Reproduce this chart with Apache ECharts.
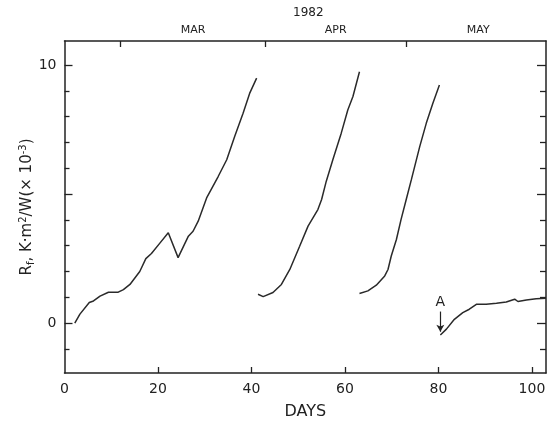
<!DOCTYPE html>
<html>
<head>
<meta charset="utf-8">
<script src="https://cdn.jsdelivr.net/npm/echarts@6/dist/echarts.min.js"></script>
<style>
  html, body { margin: 0; padding: 0; background: #fff; }
  #chart { width: 547px; height: 424px; }
</style>
</head>
<body>
<div id="chart"></div>
<script>
// fouling resistance runs (days, Rf x1e-3)
const run1Days = [2.2, 3.3, 5.3, 6.2, 7.6, 9.4, 11.5, 12.6, 14, 16.1, 17.4, 18.6, 20.4, 22.2, 24.3, 26.5, 27.5, 28.6, 30.4, 32.9, 34.7, 36.4, 38.2, 39.6, 41.1];
const run1Rf   = [0.0, 0.35, 0.8, 0.86, 1.05, 1.2, 1.2, 1.3, 1.5, 2.0, 2.5, 2.7, 3.1, 3.5, 2.54, 3.37, 3.56, 3.95, 4.85, 5.69, 6.33, 7.23, 8.13, 8.9, 9.49];

const run2Days = [41.4, 42.5, 44.6, 46.4, 48.2, 50.3, 52.1, 54.2, 55.0, 56.0, 57.4, 59.2, 60.6, 61.7, 63.1];
const run2Rf   = [1.12, 1.03, 1.19, 1.5, 2.08, 2.98, 3.76, 4.4, 4.79, 5.5, 6.33, 7.36, 8.26, 8.78, 9.74];

const run3Days = [63.1, 64.9, 66.7, 68.5, 69.2, 69.9, 71.0, 72.0, 73.1, 74.2, 76.0, 77.4, 78.8, 80.2];
const run3Rf   = [1.15, 1.25, 1.47, 1.83, 2.08, 2.6, 3.24, 4.02, 4.79, 5.56, 6.85, 7.75, 8.52, 9.23];

const run4Days = [80.4, 81.7, 83.4, 85.2, 86.6, 88.1, 90.2, 92.4, 94.5, 96.3, 97.0, 98.8, 100.9, 103.0];
const run4Rf   = [-0.46, -0.23, 0.15, 0.41, 0.54, 0.73, 0.73, 0.77, 0.82, 0.93, 0.84, 0.9, 0.95, 0.97];

// annotation "A" arrow
const arrowDay = 80.4;
const arrowFrom = 0.45;
const arrowTo = -0.33;

// month axis on top
const monthStarts = [12, 43, 73];
const monthMids = [27.5, 58, 88.5];
const monthNames = ['MAR', 'APR', 'MAY'];

const xTicks = [20, 40, 60, 80, 100];
const xLabels = [0, 20, 40, 60, 80, 100];
const yMinorTicks = [-1, 1, 2, 3, 4, 6, 7, 8, 9];
const yMajorTicks = [0, 5, 10];
const yLabels = [0, 10];

const X_MIN = 0, X_MAX = 103;
const Y_MIN = -1.93, Y_MAX = 10.93;

const FONT = 'DejaVu Sans';
const INK = '#222';

const zip = (xs, ys) => xs.map((x, i) => [x, ys[i]]);

const chart = echarts.init(document.getElementById('chart'));

const yAxisBase = (position, ticks, len, showLine) => ({
  type: 'value',
  position,
  min: Y_MIN,
  max: Y_MAX,
  splitLine: { show: false },
  axisLine: { show: showLine, lineStyle: { color: INK, width: 1.5 } },
  axisTick: { show: true, inside: true, length: len, customValues: ticks, lineStyle: { color: INK, width: 1.3 } },
  axisLabel: { show: false },
});

const lineSeries = (data) => ({
  type: 'line',
  data,
  showSymbol: false,
  symbol: 'none',
  lineStyle: { color: '#2a2a2a', width: 1.5 },
  silent: true,
  animation: false,
});

const leftMinor = yAxisBase('left', yMinorTicks, 5, true);
leftMinor.axisLabel = {
  show: true,
  customValues: yLabels,
  color: INK,
  fontFamily: FONT,
  fontSize: 14,
  margin: 8,
};
leftMinor.name = 'R{sub|f}, K·m{sup|2}/W(× 10{sup|-3})';
leftMinor.nameLocation = 'middle';
leftMinor.nameGap = 28;
leftMinor.nameMoveOverlap = false;
leftMinor.nameTextStyle = {
  color: INK,
  fontFamily: FONT,
  fontSize: 15,
  rich: {
    sub: { fontSize: 10, fontFamily: FONT, color: INK, verticalAlign: 'bottom', padding: [8, 0, 0, 0] },
    sup: { fontSize: 10, fontFamily: FONT, color: INK, verticalAlign: 'top', padding: [0, 0, 8, 0] },
  },
};

const option = {
  backgroundColor: '#fff',
  animation: false,
  grid: { left: 64.5, right: 1, top: 41, bottom: 51, containLabel: false, outerBoundsMode: 'none' },
  graphic: [{
    type: 'text',
    left: 293,
    top: 7,
    style: { text: '1982', font: '12px "DejaVu Sans"', fill: INK },
  }],
  xAxis: [
    {
      type: 'value',
      position: 'bottom',
      min: X_MIN,
      max: X_MAX,
      splitLine: { show: false },
      axisLine: { show: true, onZero: false, lineStyle: { color: INK, width: 1.5 } },
      axisTick: { show: true, inside: true, length: 6, customValues: xTicks, lineStyle: { color: INK, width: 1.3 } },
      axisLabel: { color: INK, fontFamily: FONT, fontSize: 14, margin: 9, customValues: xLabels },
      name: 'DAYS',
      nameLocation: 'middle',
      nameGap: 31,
      nameTextStyle: { color: INK, fontFamily: FONT, fontSize: 16 },
    },
    {
      type: 'value',
      position: 'top',
      min: X_MIN,
      max: X_MAX,
      splitLine: { show: false },
      axisLine: { show: true, onZero: false, lineStyle: { color: INK, width: 1.5 } },
      axisTick: { show: true, inside: true, length: 6, customValues: monthStarts, lineStyle: { color: INK, width: 1.3 } },
      axisLabel: {
        show: true,
        customValues: monthMids,
        color: INK,
        fontFamily: FONT,
        fontSize: 11,
        margin: 5,
        formatter: (v) => monthNames[monthMids.indexOf(v)] || '',
      },
    },
  ],
  yAxis: [
    leftMinor,
    yAxisBase('left', yMajorTicks, 8, false),
    yAxisBase('right', yMinorTicks, 6, true),
    yAxisBase('right', yMajorTicks, 9, false),
  ],
  series: [
    lineSeries(zip(run1Days, run1Rf)),
    lineSeries(zip(run2Days, run2Rf)),
    lineSeries(zip(run3Days, run3Rf)),
    Object.assign(lineSeries(zip(run4Days, run4Rf)), {
      markLine: {
        silent: true,
        symbol: ['none', 'arrow'],
        symbolSize: [6, 7],
        lineStyle: { color: INK, width: 1.2, type: 'solid' },
        label: {
          show: true,
          position: 'start',
          distance: 2,
          formatter: 'A',
          color: INK,
          fontFamily: FONT,
          fontSize: 14,
        },
        data: [[{ coord: [arrowDay, arrowFrom] }, { coord: [arrowDay, arrowTo] }]],
      },
    }),
  ],
};

chart.setOption(option);
</script>
</body>
</html>
